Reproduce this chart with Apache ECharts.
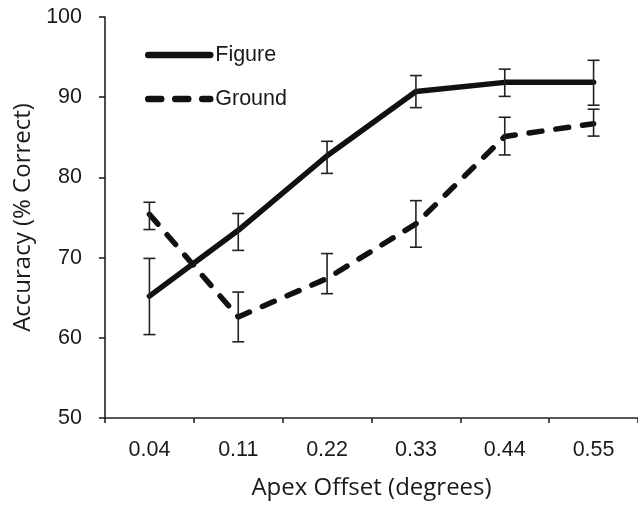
<!DOCTYPE html>
<html>
<head>
<meta charset="utf-8">
<script src="https://cdn.jsdelivr.net/npm/echarts@6/dist/echarts.min.js"></script>
<style>html,body{margin:0;padding:0;background:#fff}#c{width:638px;height:505px}</style>
</head>
<body>
<div id="c"></div>
<script>
var categories = ['0.04', '0.11', '0.22', '0.33', '0.44', '0.55'];
var figureMean = [65.2, 73.4, 82.7, 90.7, 91.85, 91.85];
var figureLow  = [60.4, 70.9, 80.5, 88.7, 90.1, 89.0];
var figureHigh = [69.9, 75.5, 84.5, 92.7, 93.5, 94.6];
var groundMean = [75.4, 62.6, 67.4, 74.2, 85.1, 86.7];
var groundLow  = [73.5, 59.5, 65.5, 71.3, 82.8, 85.15];
var groundHigh = [76.9, 65.7, 70.5, 77.1, 87.5, 88.5];
var yTicks = [50, 60, 70, 80, 90, 100];

var errData = [];
for (var i = 0; i < categories.length; i++) {
  errData.push([i, figureLow[i], figureHigh[i]]);
  errData.push([i, groundLow[i], groundHigh[i]]);
}

function renderErr(params, api) {
  var x = api.value(0);
  var lo = api.coord([x, api.value(1)]);
  var hi = api.coord([x, api.value(2)]);
  var hw = 6;
  var st = {stroke: '#222', lineWidth: 1.6, fill: null};
  return {
    type: 'group',
    children: [
      {type: 'line', shape: {x1: lo[0], y1: lo[1], x2: hi[0], y2: hi[1]}, style: st},
      {type: 'line', shape: {x1: lo[0] - hw, y1: lo[1], x2: lo[0] + hw, y2: lo[1]}, style: st},
      {type: 'line', shape: {x1: hi[0] - hw, y1: hi[1], x2: hi[0] + hw, y2: hi[1]}, style: st}
    ]
  };
}

var dashPattern = [13, 14];

var chart = echarts.init(document.getElementById('c'), null, {renderer: 'canvas'});
chart.setOption({
  animation: false,
  backgroundColor: '#fff',
  grid: {left: 105, top: 17, width: 536, height: 403, containLabel: false},
  legend: {
    orient: 'vertical',
    left: 145, top: 44, padding: 0,
    itemWidth: 62, itemHeight: 22, itemGap: 22,
    itemStyle: {opacity: 0, color: 'rgba(0,0,0,0)', borderWidth: 0},
    lineStyle: {color: '#111', width: 6.5, cap: 'round'},
    data: [
      {name: 'Figure', lineStyle: {type: 'solid', width: 6.5, color: '#111', cap: 'round'}},
      {name: 'Ground', lineStyle: {type: dashPattern, width: 6.5, color: '#111', cap: 'round'}}
    ],
    textStyle: {fontFamily: 'Liberation Sans', fontSize: 21.5, color: '#1a1a1a'},
    selectedMode: false
  },
  xAxis: {
    type: 'category',
    data: categories,
    boundaryGap: true,
    name: 'Apex Offset (degrees)',
    nameLocation: 'middle',
    nameGap: 58,
    nameTextStyle: {fontFamily: 'Open Sans', fontSize: 24, color: '#1a1a1a'},
    axisLine: {lineStyle: {color: '#222', width: 1.6}},
    axisTick: {show: true, length: 5, inside: false, lineStyle: {color: '#222', width: 1.6}},
    axisLabel: {fontFamily: 'Liberation Sans', fontSize: 21.5, color: '#1a1a1a', margin: 21},
    splitLine: {show: false}
  },
  yAxis: {
    type: 'value',
    min: yTicks[0], max: yTicks[yTicks.length - 1], interval: 10,
    name: 'Accuracy (% Correct)',
    nameLocation: 'middle',
    nameGap: 63,
    nameRotate: 90,
    nameTextStyle: {fontFamily: 'Open Sans', fontSize: 24, color: '#1a1a1a'},
    axisLine: {show: true, lineStyle: {color: '#222', width: 1.6}},
    axisTick: {show: true, length: 6, inside: false, lineStyle: {color: '#222', width: 1.6}},
    axisLabel: {fontFamily: 'Liberation Sans', fontSize: 21.5, color: '#1a1a1a', margin: 23},
    splitLine: {show: false}
  },
  series: [
    {
      name: 'Figure', type: 'line', data: figureMean, symbol: 'none',
      lineStyle: {color: '#111', width: 5.5, cap: 'round', join: 'round'},
      itemStyle: {color: '#111'}, z: 3
    },
    {
      name: 'Ground', type: 'line', data: groundMean, symbol: 'none',
      lineStyle: {color: '#111', width: 5.5, type: dashPattern, cap: 'round', join: 'round'},
      itemStyle: {color: '#111'}, z: 3
    },
    {
      name: 'err', type: 'custom', renderItem: renderErr, data: errData,
      encode: {x: 0, y: [1, 2]}, z: 4, silent: true
    }
  ]
});
</script>
</body>
</html>
